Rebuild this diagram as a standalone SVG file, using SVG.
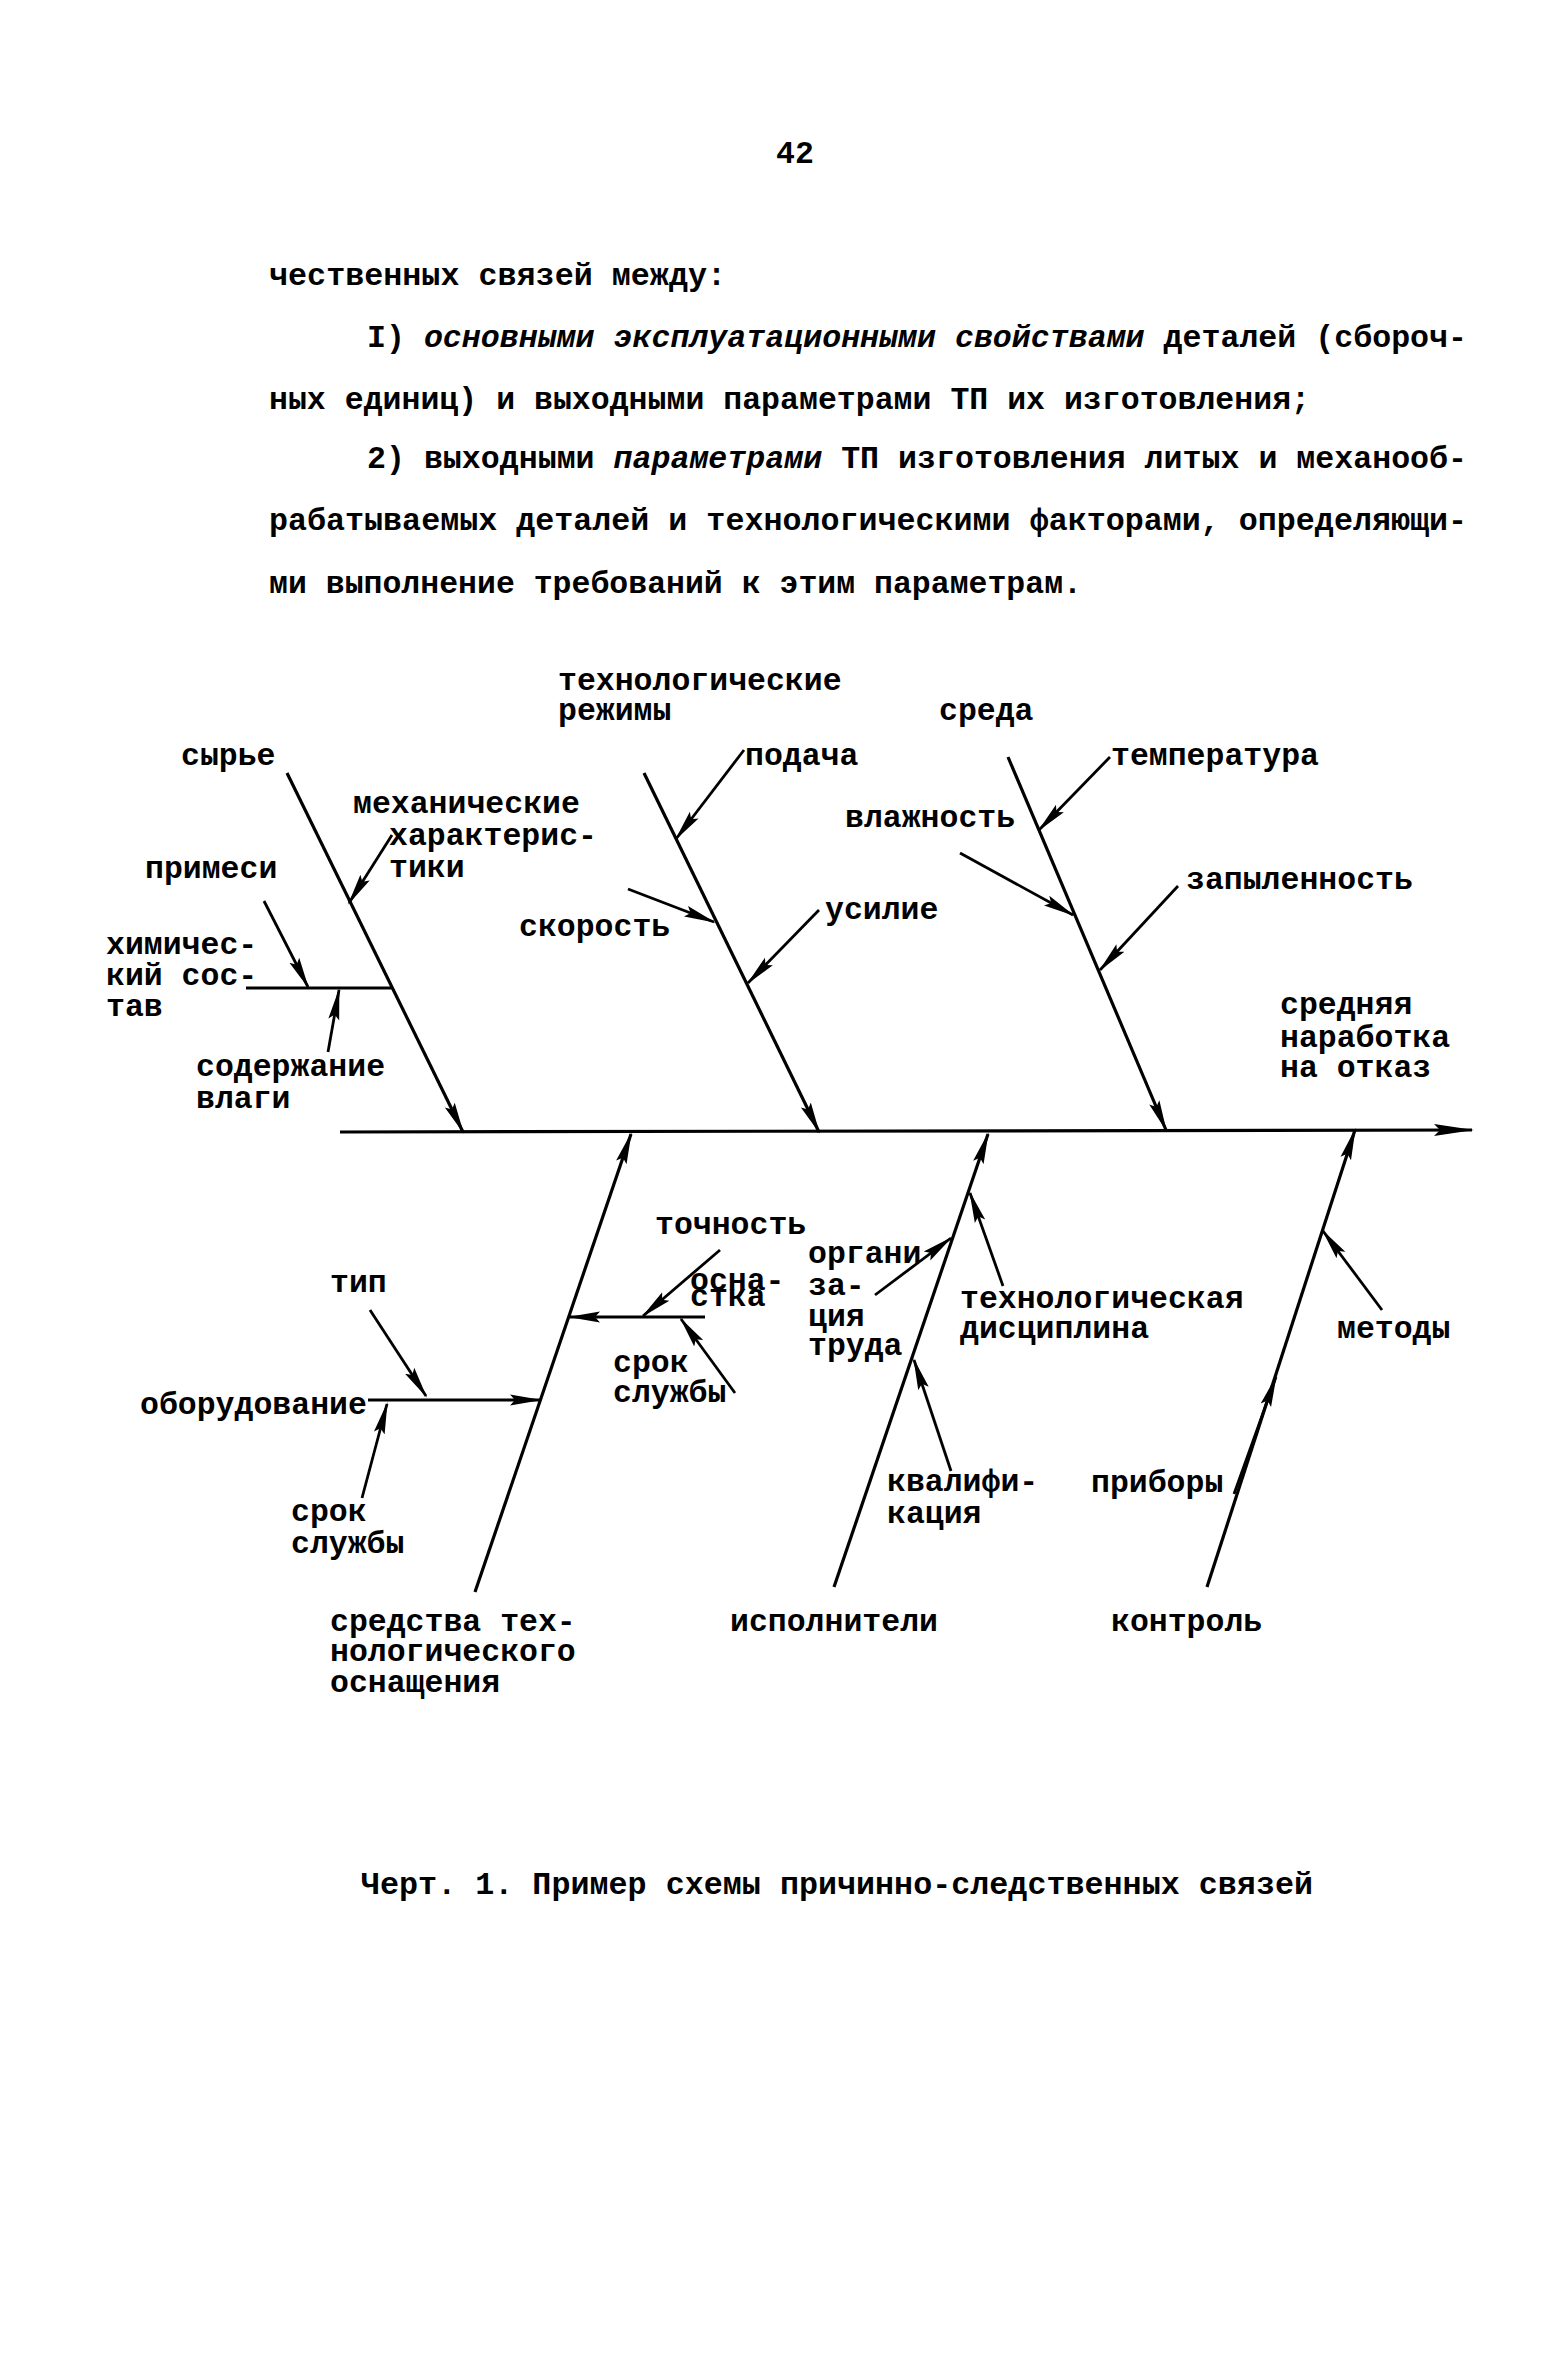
<svg xmlns="http://www.w3.org/2000/svg" width="1550" height="2366" viewBox="0 0 1550 2366">
<style>
text{font-family:"Liberation Mono","DejaVu Sans Mono",monospace;font-size:31.5px;font-weight:bold;fill:#000}
.body{font-size:32px}
.it{font-style:italic}
.bone{stroke:#000;stroke-width:3.2;fill:none;marker-end:url(#ah)}
.sub{stroke:#000;stroke-width:2.8;fill:none;marker-end:url(#ah)}
.plain{stroke:#000;stroke-width:3;fill:none}
</style>
<defs>
<marker id="ah" markerWidth="32" markerHeight="14" refX="30" refY="7" orient="auto" markerUnits="userSpaceOnUse">
<path d="M0,1.5 L32,7 L0,12.5 L5,7 Z" fill="#000"/>
</marker>
<marker id="ahm" markerWidth="40" markerHeight="14" refX="38" refY="7" orient="auto" markerUnits="userSpaceOnUse">
<path d="M0,1 L40,7 L0,13 L6,7 Z" fill="#000"/>
</marker>
</defs>
<rect width="1550" height="2366" fill="#fff"/>

<g id="page-text">
<text x="795" y="163" text-anchor="middle">42</text>
<text class="body" x="269" y="285" textLength="457" lengthAdjust="spacingAndGlyphs">чественных связей между:</text>
<text class="body" x="367" y="347" textLength="1100" lengthAdjust="spacingAndGlyphs">I) <tspan class="it">основными эксплуатационными свойствами</tspan> деталей (сбороч-</text>
<text class="body" x="269" y="409" textLength="1041" lengthAdjust="spacingAndGlyphs">ных единиц) и выходными параметрами ТП их изготовления;</text>
<text class="body" x="367" y="468" textLength="1100" lengthAdjust="spacingAndGlyphs">2) выходными <tspan class="it">параметрами</tspan> ТП изготовления литых и механооб-</text>
<text class="body" x="269" y="530" textLength="1198" lengthAdjust="spacingAndGlyphs">рабатываемых деталей и технологическими факторами, определяющи-</text>
<text class="body" x="269" y="593" textLength="813" lengthAdjust="spacingAndGlyphs">ми выполнение требований к этим параметрам.</text>
</g>

<g id="connectors">
<!-- spine -->
<line x1="340" y1="1132" x2="1472" y2="1130" stroke="#000" stroke-width="3.2" marker-end="url(#ahm)"/>
<!-- upper bones -->
<line class="bone" x1="287" y1="773" x2="463" y2="1132"/>
<line class="bone" x1="644" y1="773" x2="819" y2="1132"/>
<line class="bone" x1="1008" y1="757" x2="1166" y2="1130"/>
<!-- lower bones -->
<line class="bone" x1="475" y1="1592" x2="631" y2="1134"/>
<line class="bone" x1="834" y1="1587" x2="988" y2="1134"/>
<line class="bone" x1="1207" y1="1587" x2="1355" y2="1130"/>
<!-- сырье sub -->
<line class="sub" x1="392" y1="835" x2="349" y2="903"/>
<line class="plain" x1="246" y1="988" x2="392" y2="988"/>
<line class="sub" x1="264" y1="901" x2="308" y2="987"/>
<line class="sub" x1="328" y1="1052" x2="339" y2="990"/>
<!-- режимы sub -->
<line class="sub" x1="744" y1="750" x2="676" y2="839"/>
<line class="sub" x1="628" y1="889" x2="714" y2="922"/>
<line class="sub" x1="819" y1="910" x2="748" y2="983"/>
<!-- среда sub -->
<line class="sub" x1="1110" y1="757" x2="1039" y2="830"/>
<line class="sub" x1="960" y1="853" x2="1073" y2="915"/>
<line class="sub" x1="1178" y1="886" x2="1100" y2="970"/>
<!-- средства sub -->
<line class="sub" x1="370" y1="1310" x2="426" y2="1396"/>
<line class="sub" x1="368" y1="1400" x2="540" y2="1400"/>
<line class="sub" x1="362" y1="1498" x2="387" y2="1404"/>
<line class="sub" x1="705" y1="1317" x2="570" y2="1317"/>
<line class="sub" x1="720" y1="1250" x2="643" y2="1316"/>
<line class="sub" x1="735" y1="1393" x2="681" y2="1319"/>
<!-- исполнители sub -->
<line class="sub" x1="875" y1="1295" x2="951" y2="1238"/>
<line class="sub" x1="1003" y1="1286" x2="970" y2="1193"/>
<line class="sub" x1="951" y1="1471" x2="914" y2="1360"/>
<!-- контроль sub -->
<line class="sub" x1="1382" y1="1310" x2="1323" y2="1231"/>
<line class="sub" x1="1234" y1="1494" x2="1276" y2="1377"/>
</g>

<g id="node-tech-modes"><text x="558" y="690">технологические</text><text x="558" y="720">режимы</text></g>
<g id="node-sreda"><text x="939" y="720">среда</text></g>
<g id="node-syrye"><text x="181" y="765">сырье</text></g>
<g id="node-podacha"><text x="745" y="765">подача</text></g>
<g id="node-temperatura"><text x="1111" y="765">температура</text></g>
<g id="node-mech"><text x="353" y="813">механические</text><text x="389" y="845">характерис-</text><text x="389" y="877">тики</text></g>
<g id="node-vlazhnost"><text x="845" y="827">влажность</text></g>
<g id="node-primesi"><text x="145" y="878">примеси</text></g>
<g id="node-zapylennost"><text x="1186" y="889">запыленность</text></g>
<g id="node-skorost"><text x="519" y="936">скорость</text></g>
<g id="node-usilie"><text x="825" y="919">усилие</text></g>
<g id="node-chem"><text x="106" y="954">химичес-</text><text x="106" y="985">кий сос-</text><text x="106" y="1016">тав</text></g>
<g id="node-result"><text x="1280" y="1014">средняя</text><text x="1280" y="1047">наработка</text><text x="1280" y="1077">на отказ</text></g>
<g id="node-vlaga"><text x="196" y="1076">содержание</text><text x="196" y="1108">влаги</text></g>
<g id="node-tochnost"><text x="655" y="1234">точность</text></g>
<g id="node-osnastka"><text x="690" y="1290">осна-</text><text x="690" y="1306">стка</text></g>
<g id="node-org"><text x="808" y="1263">органи</text><text x="808" y="1295">за-</text><text x="808" y="1326">ция</text><text x="808" y="1355">труда</text></g>
<g id="node-disc"><text x="960" y="1308">технологическая</text><text x="960" y="1338">дисциплина</text></g>
<g id="node-tip"><text x="330" y="1292">тип</text></g>
<g id="node-metody"><text x="1337" y="1338">методы</text></g>
<g id="node-srok2"><text x="613" y="1372">срок</text><text x="613" y="1402">службы</text></g>
<g id="node-oborud"><text x="140" y="1414">оборудование</text></g>
<g id="node-kval"><text x="887" y="1491">квалифи-</text><text x="887" y="1523">кация</text></g>
<g id="node-pribory"><text x="1091" y="1492">приборы</text></g>
<g id="node-srok1"><text x="291" y="1521">срок</text><text x="291" y="1553">службы</text></g>
<g id="node-sredstva"><text x="330" y="1631">средства тех-</text><text x="330" y="1661">нологического</text><text x="330" y="1692">оснащения</text></g>
<g id="node-ispolniteli"><text x="730" y="1631">исполнители</text></g>
<g id="node-kontrol"><text x="1111" y="1631">контроль</text></g>

<g id="caption"><text class="body" x="361" y="1894" textLength="952" lengthAdjust="spacingAndGlyphs">Черт. 1. Пример схемы причинно-следственных связей</text></g>
</svg>
